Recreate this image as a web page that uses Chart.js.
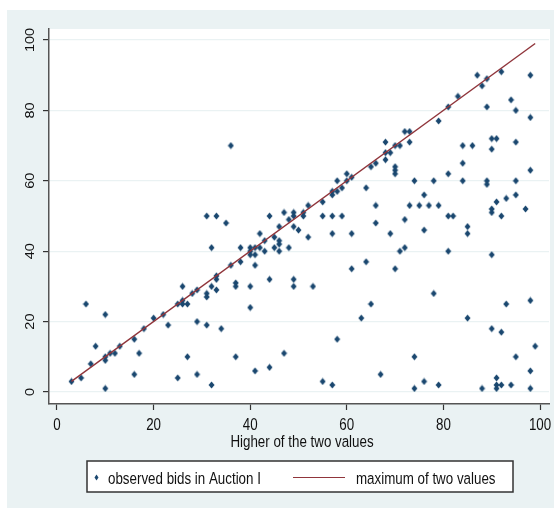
<!DOCTYPE html>
<html>
<head>
<meta charset="utf-8">
<script src="https://cdn.jsdelivr.net/npm/chart.js@4.4.1/dist/chart.umd.min.js"></script>
<style>
  body { margin: 0; background: #fff; }
  canvas { display: block; }
</style>
</head>
<body>
<canvas id="bidChart" width="554" height="508"></canvas>
<script>
// observed bids (x = higher of the two values, y = bid)
let bidX = [3, 5, 6, 7, 8, 10, 10, 10, 10, 11, 12, 13, 16, 16, 17, 18, 20, 22, 23, 25,
  25, 26, 26, 26, 27, 27, 28, 29, 29, 29, 31, 31, 31, 31, 32, 32, 32, 33, 33, 33,
  33, 34, 35, 36, 36, 37, 37, 37, 38, 38, 40, 40, 40, 40, 40, 41, 41, 41, 41, 42,
  42, 43, 43, 44, 44, 44, 45, 45, 46, 46, 46, 46, 47, 47, 48, 48, 49, 49, 49, 49,
  49, 50, 51, 51, 52, 52, 53, 55, 55, 55, 57, 57, 57, 57, 57, 58, 58, 58, 59, 59,
  60, 60, 61, 61, 61, 63, 64, 64, 65, 65, 66, 66, 66, 67, 68, 68, 68, 69, 69, 70,
  70, 70, 70, 70, 71, 71, 72, 72, 72, 73, 73, 73, 74, 74, 74, 75, 76, 76, 76, 77,
  78, 78, 79, 79, 79, 81, 81, 81, 81, 82, 83, 84, 84, 84, 85, 85, 85, 86, 87, 88,
  88, 89, 89, 89, 89, 90, 90, 90, 90, 90, 90, 91, 91, 91, 91, 91, 92, 92, 92, 92,
  93, 93, 94, 94, 95, 95, 95, 95, 95, 97, 98, 98, 98, 98, 98, 98, 99];
let bidY = [3, 4, 25, 8, 13, 22, 10, 9, 1, 11, 11, 13, 15, 5, 11, 18, 21, 22, 19, 25,
  4, 30, 26, 25, 25, 10, 28, 29, 20, 5, 28, 27, 19, 50, 41, 30, 2, 32, 33, 29,
  50, 18, 48, 70, 36, 31, 30, 10, 41, 37, 41, 40, 39, 30, 24, 41, 39, 36, 6, 45,
  41, 43, 40, 50, 32, 7, 44, 41, 47, 43, 42, 40, 51, 11, 49, 41, 51, 50, 47, 32,
  30, 46, 51, 50, 53, 44, 30, 54, 50, 3, 57, 56, 50, 45, 2, 60, 57, 15, 58, 50,
  62, 60, 61, 45, 35, 21, 58, 37, 64, 25, 65, 53, 48, 5, 71, 68, 66, 68, 45, 70,
  64, 63, 62, 35, 70, 40, 74, 49, 41, 74, 71, 53, 60, 10, 1, 53, 56, 46, 3, 53,
  60, 28, 77, 53, 2, 81, 62, 50, 40, 50, 84, 70, 65, 60, 47, 45, 21, 70, 90, 87,
  1, 89, 81, 60, 59, 72, 69, 52, 51, 39, 18, 72, 54, 4, 2, 1, 91, 50, 17, 2,
  55, 25, 83, 2, 80, 71, 60, 56, 10, 52, 90, 78, 63, 26, 6, 1, 13];

// maximum of two values: the 45 degree line over the observed range
let lineX = [3, 99];
let lineY = [3, 99];

let xTicks = [0, 20, 40, 60, 80, 100];
let yTicks = [0, 20, 40, 60, 80, 100];
let xTitle = 'Higher of the two values';
let legendLabels = ['observed bids in Auction I', 'maximum of two values'];

let navy = '#1a476f';
let maroon = '#90353b';
let bgColor = '#eaf2f3';
let textColor = '#111111';
let fontName = '"Liberation Sans", Arial, sans-serif';
let squeeze = 0.82; // the original is an arial picture pressed sideways

function toPoints(xs, ys) {
    let pts = [];
    for (let i = 0; i < xs.length; i++) {
        pts.push({ x: xs[i], y: ys[i] });
    }
    return pts;
}

function fixTicks(list) {
    return function (scale) {
        scale.ticks = list.map(function (v) { return { value: v }; });
    };
}

// a diamond a little taller than wide, like the markers in the picture
function makeDiamond(w, h) {
    let c = document.createElement('canvas');
    c.width = w + 1;
    c.height = h + 1;
    let g = c.getContext('2d');
    g.fillStyle = navy;
    g.beginPath();
    g.moveTo(c.width / 2, 0.5);
    g.lineTo(c.width - 0.5, c.height / 2);
    g.lineTo(c.width / 2, c.height - 0.5);
    g.lineTo(0.5, c.height / 2);
    g.closePath();
    g.fill();
    return c;
}

function squeezedText(ctx, text, x, y, size, align) {
    ctx.save();
    ctx.translate(x, y);
    ctx.scale(squeeze, 1);
    ctx.font = size + 'px ' + fontName;
    ctx.textAlign = align;
    ctx.textBaseline = 'alphabetic';
    ctx.fillText(text, 0, 0);
    ctx.restore();
}

// backgrounds, all texts and the boxed legend
let stataLook = {
    id: 'stataLook',
    beforeDraw(chart) {
        let ctx = chart.ctx;
        let a = chart.chartArea;
        ctx.save();
        ctx.fillStyle = '#ffffff';
        ctx.fillRect(0, 0, chart.width, chart.height);
        ctx.fillStyle = bgColor;
        ctx.fillRect(7, 10, chart.width - 7, chart.height - 10);
        ctx.fillStyle = '#ffffff';
        ctx.fillRect(a.left, a.top, a.right - a.left + 1, a.bottom - a.top);
        ctx.restore();
    },
    afterDraw(chart) {
        let ctx = chart.ctx;
        let xScale = chart.scales.x;
        let yScale = chart.scales.y;
        ctx.save();
        ctx.fillStyle = textColor;

        // y labels, turned up and pressed sideways
        yTicks.forEach(function (v) {
            ctx.save();
            ctx.translate(31, yScale.getPixelForValue(v));
            ctx.scale(squeeze, 1);
            ctx.rotate(-Math.PI / 2);
            ctx.font = '14.5px ' + fontName;
            ctx.textAlign = 'center';
            ctx.textBaseline = 'middle';
            ctx.fillText(String(v), 0, 0);
            ctx.restore();
        });

        xTicks.forEach(function (v) {
            squeezedText(ctx, String(v), xScale.getPixelForValue(v), 430, 16.3, 'center');
        });
        squeezedText(ctx, xTitle, (xScale.left + xScale.right) / 2 + 3, 447, 16.3, 'center');

        // legend box
        ctx.fillStyle = '#ffffff';
        ctx.fillRect(87, 461, 426, 31);
        ctx.strokeStyle = '#333333';
        ctx.lineWidth = 1.5;
        ctx.strokeRect(87, 461, 426, 31);

        let ly = 477.5;
        ctx.fillStyle = navy;
        ctx.beginPath();
        ctx.moveTo(96.5, ly - 3);
        ctx.lineTo(98.5, ly);
        ctx.lineTo(96.5, ly + 3);
        ctx.lineTo(94.5, ly);
        ctx.closePath();
        ctx.fill();

        ctx.strokeStyle = maroon;
        ctx.lineWidth = 1.2;
        ctx.beginPath();
        ctx.moveTo(293, ly);
        ctx.lineTo(345, ly);
        ctx.stroke();

        ctx.fillStyle = textColor;
        squeezedText(ctx, legendLabels[0], 108, 484, 16.3, 'left');
        squeezedText(ctx, legendLabels[1], 356, 484, 16.3, 'left');
        ctx.restore();
    }
};

let ctx = document.getElementById('bidChart').getContext('2d');
let myChart = new Chart(ctx, {
    type: 'scatter',
    data: {
        datasets: [{
            label: legendLabels[1],
            type: 'line',
            data: toPoints(lineX, lineY),
            borderColor: maroon,
            borderWidth: 1.4,
            pointRadius: 0,
            fill: false,
            order: 0
        }, {
            label: legendLabels[0],
            data: toPoints(bidX, bidY),
            pointStyle: makeDiamond(6, 7),
            pointRadius: 4,
            order: 1
        }]
    },
    options: {
        responsive: false,
        animation: false,
        devicePixelRatio: 1,
        layout: { padding: { left: 0, top: 29, right: 3, bottom: 0 } },
        plugins: {
            legend: { display: false },
            tooltip: { enabled: false }
        },
        scales: {
            x: {
                type: 'linear',
                min: -1.65,
                max: 101.86,
                afterBuildTicks: fixTicks(xTicks),
                afterFit: function (scale) { scale.height = 104; },
                border: { color: '#555555', width: 1.5 },
                grid: { drawOnChartArea: false, tickLength: 6, tickColor: '#333333', tickWidth: 1.2 },
                ticks: { display: false }
            },
            y: {
                type: 'linear',
                min: -3.41,
                max: 103.13,
                afterBuildTicks: fixTicks(yTicks),
                afterFit: function (scale) { scale.width = 49; },
                border: { color: '#555555', width: 1.5 },
                grid: { color: bgColor, lineWidth: 1.2, tickLength: 6, tickColor: '#333333', tickWidth: 1.2 },
                ticks: { display: false }
            }
        }
    },
    plugins: [stataLook]
});
</script>
</body>
</html>
